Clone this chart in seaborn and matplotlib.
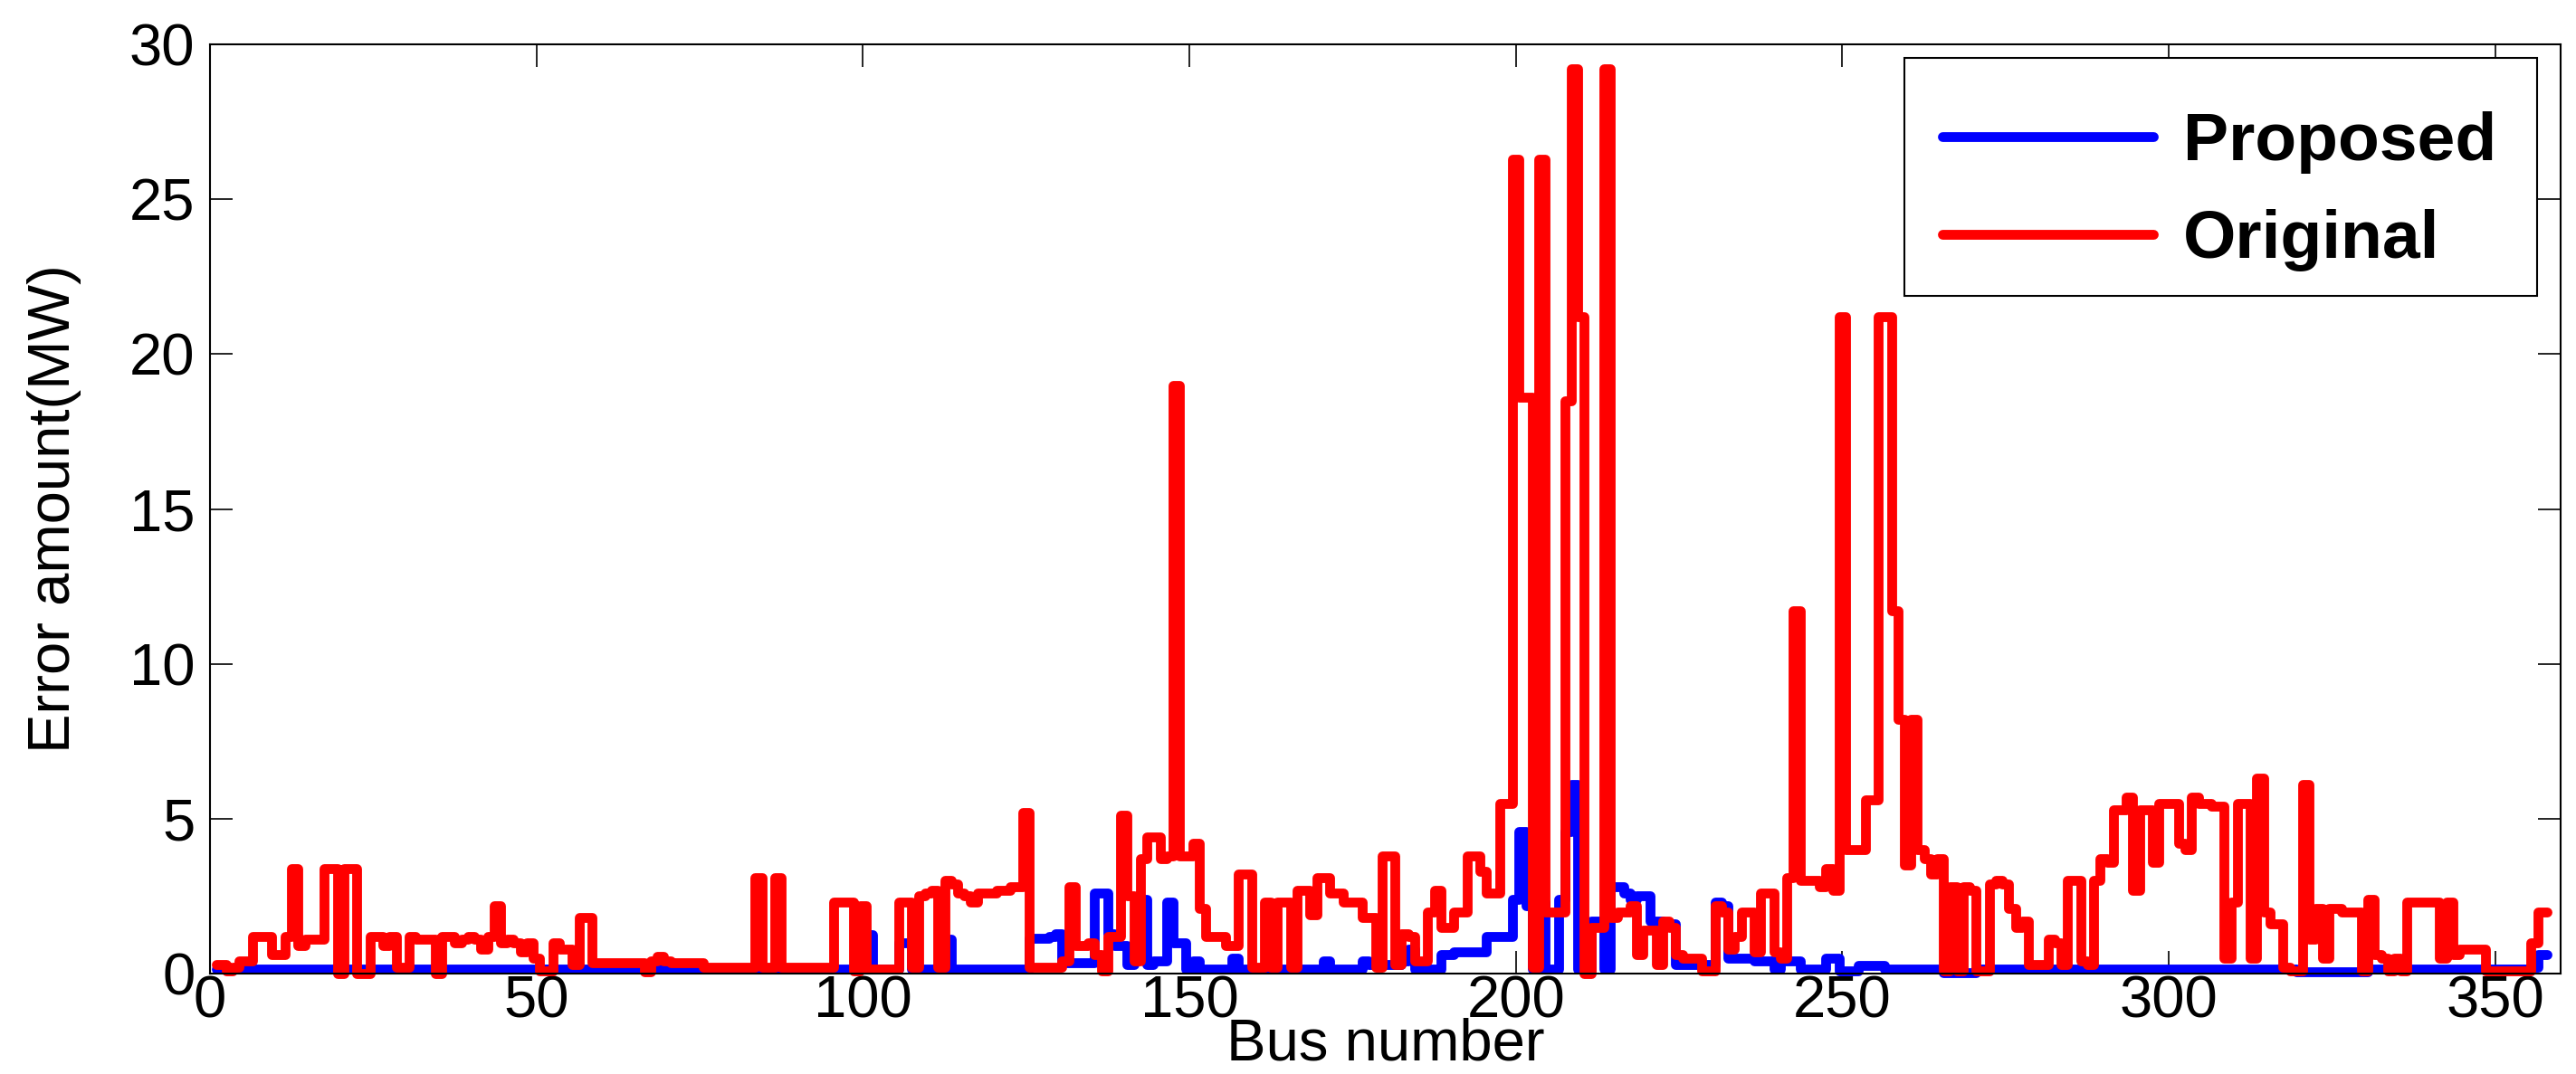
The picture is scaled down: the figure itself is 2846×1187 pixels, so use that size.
import numpy as np
import pandas as pd
import matplotlib
matplotlib.use("Agg")
import matplotlib.pyplot as plt
from matplotlib.patches import Rectangle
import seaborn as sns

original_runs = [
    (0.3, 2), (0.1, 1), (0.2, 1), (0.4, 2), (1.2, 3), (0.6, 2), (1.2, 1), (3.4, 1), (0.9, 1),
    (1.1, 3), (3.4, 2), (0.0, 1), (3.4, 2), (0.0, 2), (1.2, 2), (0.9, 1), (1.2, 1), (0.2, 2),
    (1.2, 1), (1.1, 3), (0.0, 1), (1.2, 2), (1.0, 1), (1.1, 1), (1.2, 1), (1.1, 1), (0.8, 1),
    (1.2, 1), (2.2, 1), (1.0, 1), (1.1, 1), (1.0, 1), (0.7, 1), (1.0, 1), (0.5, 1), (0.1, 2),
    (1.0, 1), (0.8, 2), (0.3, 1), (1.8, 2), (0.35, 8), (0.05, 1), (0.4, 1), (0.55, 1), (0.4, 1),
    (0.35, 5), (0.2, 8), (3.1, 1), (0.2, 2), (3.1, 1), (0.2, 8), (2.3, 3), (0.1, 1), (2.2, 1),
    (0.15, 5), (2.3, 2), (0.2, 1), (2.5, 1), (2.6, 1), (2.7, 1), (0.2, 1), (3.0, 1), (2.9, 1),
    (2.6, 1), (2.5, 1), (2.3, 1), (2.6, 3), (2.7, 2), (2.8, 2), (5.2, 1), (0.2, 5), (0.4, 1),
    (2.8, 1), (0.9, 2), (1.0, 1), (0.6, 1), (0.1, 1), (1.2, 2), (5.1, 1), (2.5, 1), (0.4, 1),
    (3.7, 1), (4.4, 2), (3.7, 1), (3.8, 1), (19.0, 1), (3.8, 2), (4.2, 1), (2.1, 1), (1.2, 3),
    (0.9, 2), (3.2, 2), (0.2, 2), (2.3, 1), (0.2, 1), (2.3, 2), (0.2, 1), (2.7, 2), (1.9, 1),
    (3.1, 2), (2.6, 2), (2.3, 3), (1.8, 2), (0.2, 1), (3.8, 2), (0.3, 1), (1.3, 1), (1.2, 1),
    (0.4, 2), (2.0, 1), (2.7, 1), (1.5, 2), (2.0, 2), (3.8, 2), (3.3, 1), (2.6, 2), (5.5, 2),
    (26.3, 1), (18.6, 2), (0.2, 1), (26.3, 1), (2.0, 3), (18.5, 1), (29.2, 1), (21.2, 1),
    (0.0, 1), (1.5, 2), (29.2, 1), (1.8, 1), (2.0, 2), (2.2, 1), (0.6, 1), (1.4, 2), (0.3, 1),
    (1.7, 1), (1.5, 1), (0.6, 1), (0.5, 3), (0.1, 2), (2.2, 1), (2.0, 1), (0.8, 1), (1.2, 1),
    (2.0, 2), (0.7, 1), (2.6, 2), (0.7, 1), (0.5, 1), (3.1, 1), (11.7, 1), (3.0, 3), (2.8, 1),
    (3.4, 1), (2.7, 1), (21.2, 1), (4.0, 3), (5.6, 2), (21.2, 2), (11.7, 1), (8.2, 1), (3.5, 1),
    (8.2, 1), (4.0, 1), (3.7, 1), (3.2, 1), (3.7, 1), (0.1, 1), (2.8, 1), (0.1, 1), (2.8, 1),
    (2.7, 1), (0.1, 2), (2.9, 1), (3.0, 1), (2.9, 1), (2.1, 1), (1.5, 1), (1.7, 1), (0.3, 3),
    (1.1, 1), (1.0, 1), (0.3, 1), (3.0, 2), (0.4, 1), (0.3, 1), (3.0, 1), (3.7, 1), (3.6, 1),
    (5.3, 2), (5.7, 1), (2.7, 1), (5.3, 2), (3.6, 1), (5.5, 3), (4.2, 1), (4.0, 1), (5.7, 1),
    (5.5, 2), (5.4, 2), (0.5, 1), (2.3, 1), (5.5, 2), (0.5, 1), (6.3, 1), (2.0, 1), (1.6, 2),
    (0.2, 1), (0.1, 2), (6.1, 1), (1.1, 1), (2.1, 1), (0.5, 1), (2.1, 2), (2.0, 3), (0.1, 1),
    (2.4, 1), (0.6, 1), (0.5, 1), (0.1, 1), (0.5, 1), (0.1, 1), (2.3, 5), (0.5, 1), (2.3, 1),
    (0.6, 1), (0.8, 4), (0.1, 7), (1.0, 1), (2.0, 2),
]

proposed_runs = [
    (0.15, 100), (1.25, 1), (0.15, 4), (1.0, 2), (0.15, 5), (1.1, 1), (0.15, 12), (1.15, 3),
    (1.2, 1), (1.3, 1), (0.35, 5), (2.6, 2), (1.3, 1), (0.9, 2), (0.3, 1), (0.9, 1), (2.4, 1),
    (0.3, 1), (0.4, 2), (2.3, 1), (1.0, 2), (0.15, 1), (0.4, 1), (0.15, 5), (0.5, 1),
    (0.15, 13), (0.4, 1), (0.15, 5), (0.4, 1), (0.3, 5), (0.4, 1), (0.8, 1), (0.15, 4),
    (0.6, 2), (0.7, 5), (1.2, 4), (2.4, 1), (4.6, 1), (2.2, 1), (0.15, 1), (2.3, 1), (0.15, 2),
    (2.4, 1), (4.6, 1), (6.1, 1), (0.15, 2), (1.7, 2), (0.15, 1), (2.8, 2), (2.6, 1), (2.4, 1),
    (2.5, 2), (1.7, 2), (1.6, 2), (0.3, 6), (2.3, 1), (2.2, 1), (0.5, 4), (0.4, 3), (0.15, 1),
    (0.4, 3), (0.15, 4), (0.5, 2), (0.1, 3), (0.25, 4), (0.15, 9), (0.03, 5), (0.15, 49),
    (0.05, 11), (0.15, 25), (0.2, 1), (0.6, 2),
]

x_ticks = [0, 50, 100, 150, 200, 250, 300, 350]
y_ticks = [0, 5, 10, 15, 20, 25, 30]


def expand(runs):
    vals = np.repeat([v for v, n in runs], [n for v, n in runs])
    return pd.DataFrame({"bus": np.arange(1, len(vals) + 1), "err": vals})


df_prop = expand(proposed_runs)
df_orig = expand(original_runs)

sns.set_style("ticks")
plt.rcParams["font.family"] = ["Liberation Sans", "DejaVu Sans"]
for key in ["text.color", "axes.labelcolor", "xtick.color", "ytick.color", "axes.edgecolor"]:
    plt.rcParams[key] = "black"

fig, ax = plt.subplots(figsize=(28.46, 11.87), dpi=100)
fig.subplots_adjust(left=0.0815, right=0.994, bottom=0.0935, top=0.9587)

line_kw = dict(linewidth=7.8, estimator=None, sort=False, ax=ax, drawstyle="steps-mid",
               solid_joinstyle="round", solid_capstyle="round", clip_on=False)
sns.lineplot(data=df_prop, x="bus", y="err", color="#0000ff", label="Proposed", **line_kw)
sns.lineplot(data=df_orig, x="bus", y="err", color="#ff0000", label="Original", **line_kw)

ax.set_xlim(0, 360)
ax.set_ylim(0, 30)
ax.set_xticks(x_ticks)
ax.set_yticks(y_ticks)
ax.tick_params(direction="in", length=18, width=1.2, top=True, right=True,
               labelsize=47, colors="black")
ax.tick_params(axis="x", pad=1)
ax.tick_params(axis="y", pad=12)
for s in ax.spines.values():
    s.set_visible(True)
    s.set_linewidth(1.5)
    s.set_color("black")

ax.set_xlabel("Bus number", fontsize=47, labelpad=-9)
ax.set_ylabel("Error amount(MW)", fontsize=47, labelpad=38)

# legend box (MATLAB-style, entries sit a bit low in the frame)
ax.add_patch(Rectangle((0.721, 0.729), 0.269, 0.256, transform=ax.transAxes,
                       facecolor="white", edgecolor="black", linewidth=1.5, zorder=4))
leg = ax.legend(loc="center", bbox_to_anchor=(0.855, 0.842), borderaxespad=0,
                prop={"weight": "bold", "size": 54}, frameon=False,
                handlelength=3.1, handletextpad=0.45, borderpad=0, labelspacing=0.52)
leg.set_zorder(6)
for txt in leg.get_texts():
    txt.set_color("black")

fig.savefig("out.png", dpi=100)
